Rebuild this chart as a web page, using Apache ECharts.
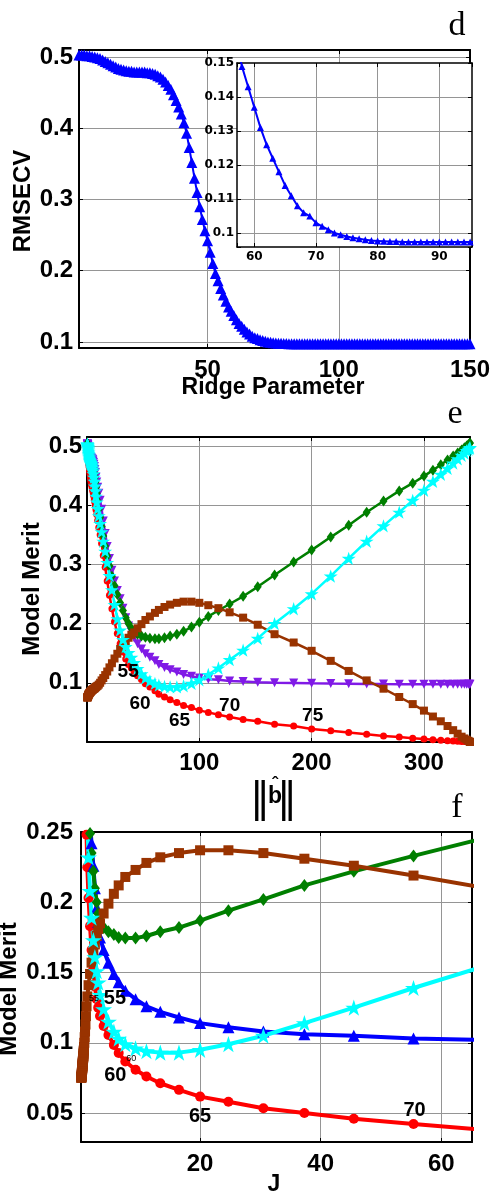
<!DOCTYPE html>
<html>
<head>
<meta charset="utf-8">
<script src="https://cdn.jsdelivr.net/npm/echarts@6/dist/echarts.min.js"></script>
<style>
html,body{margin:0;padding:0;background:#fff;}
#chart{width:495px;height:1195px;}
</style>
</head>
<body>
<div id="chart"></div>
<script>
// Ridge parameter index (1..150)
const ridge = Array.from({length: 150}, (_, i) => i + 1);

// RMSECV for each ridge parameter
const rmsecv = [
  0.503,0.503,0.503,0.502,0.502,0.501,0.500,0.499,0.498,0.496,
  0.494,0.492,0.490,0.488,0.486,0.484,0.483,0.482,0.481,0.480,
  0.480,0.479,0.479,0.479,0.479,0.479,0.478,0.478,0.477,0.476,
  0.474,0.472,0.469,0.465,0.460,0.455,0.447,0.439,0.430,0.420,
  0.408,0.393,0.373,0.352,0.330,0.310,0.290,0.272,0.256,0.242,
  0.226,0.210,0.196,0.186,0.175,0.166,0.157,0.149,0.143,0.137,
  0.131,0.126,0.122,0.118,0.114,0.111,0.108,0.106,0.105,0.103,
  0.102,0.101,0.100,0.0995,0.099,0.0986,0.0983,0.0980,0.0978,0.0977,
  0.0976,0.0975,0.0975,0.0974,0.0974,0.0974,0.0974,0.0974,0.0974,0.0974,
  0.0974,0.0974,0.0974,0.0974,0.0974,0.0974,0.0974,0.0974,0.0974,0.0974,
  0.0974,0.0974,0.0974,0.0974,0.0974,0.0974,0.0974,0.0974,0.0974,0.0974,
  0.0974,0.0974,0.0974,0.0974,0.0974,0.0974,0.0974,0.0974,0.0974,0.0974,
  0.0974,0.0974,0.0974,0.0974,0.0974,0.0974,0.0974,0.0974,0.0974,0.0974,
  0.0974,0.0974,0.0974,0.0974,0.0974,0.0974,0.0974,0.0974,0.0974,0.0974,
  0.0974,0.0974,0.0974,0.0974,0.0974,0.0974,0.0974,0.0974,0.0974,0.0974
];

// Norm of the regression vector for ridge parameters 1..93
const bNorm = [
  0.3,0.35,0.4,0.5,0.6,0.7,0.8,0.9,1.0,1.1,
  1.2,1.3,1.4,1.5,1.6,1.8,2.0,2.2,2.4,2.6,
  2.8,3.0,3.2,3.4,3.6,3.9,4.2,4.5,4.8,5.1,
  5.4,5.8,6.2,6.6,7.0,7.5,8.0,8.7,9.5,10.5,
  11.7,13.0,14.5,16.2,18.0,20.0,22.2,24.5,27.0,29.5,
  32.0,34.5,37.0,39.5,42.0,45.0,48.5,52.0,56.0,60.5,
  64,69,74,80,86,93,100,108,117,127,
  139,152,167,184,200,217,233,249,264,278,
  290,300,308,315,321,326,330,333.5,336,338,339.5,340.5,341
];

// J for ridge parameters 1..72
const jValues = [
  0.30,0.31,0.32,0.33,0.34,0.35,0.36,0.37,0.38,0.39,
  0.40,0.41,0.42,0.43,0.44,0.45,0.46,0.47,0.48,0.49,
  0.50,0.51,0.52,0.53,0.54,0.55,0.56,0.57,0.58,0.59,
  0.60,0.61,0.62,0.63,0.64,0.655,0.67,0.69,0.72,0.75,
  0.80,0.86,0.92,0.99,1.07,1.17,1.30,1.50,1.75,2.00,
  2.30,2.55,2.85,3.10,3.40,4.0,4.8,5.7,6.5,7.6,
  9.3,11.1,13.4,16.5,20.0,24.7,30.5,37.3,45.5,55.4,
  67.5,82.0
];

// RMSEC (red circles)
const rmsec = [
  0.502,0.501,0.500,0.499,0.497,0.495,0.493,0.491,0.488,0.485,
  0.482,0.479,0.476,0.473,0.470,0.467,0.464,0.461,0.458,0.455,
  0.452,0.449,0.446,0.443,0.440,0.437,0.434,0.431,0.428,0.425,
  0.422,0.418,0.414,0.410,0.405,0.399,0.392,0.384,0.374,0.362,
  0.350,0.335,0.315,0.295,0.272,0.248,0.225,0.203,0.183,0.166,
  0.152,0.140,0.131,0.125,0.119,0.112,0.1055,0.0985,0.0927,0.0867,
  0.0808,0.0760,0.0712,0.0665,0.0617,0.0581,0.0534,0.0500,0.0460,0.0422,
  0.038,0.035,0.030,0.027,0.022,0.019,0.016,0.013,0.010,0.0085,
  0.0065,0.005,0.004,0.003,0.0022,0.0016,0.0012,0.0009,0.0007,0.0005,0.0004,0.0003,0.0002
];

// Merit curve drawn with diamonds (green)
const meritDiamond = [
  0.504,0.504,0.503,0.503,0.502,0.501,0.500,0.499,0.498,0.496,
  0.494,0.492,0.490,0.488,0.486,0.484,0.483,0.482,0.481,0.480,
  0.479,0.479,0.478,0.478,0.477,0.477,0.476,0.475,0.474,0.472,
  0.469,0.465,0.460,0.454,0.447,0.439,0.430,0.420,0.407,0.393,
  0.379,0.364,0.348,0.331,0.314,0.297,0.280,0.264,0.249,0.235,
  0.222,0.210,0.200,0.192,0.186,0.182,0.179,0.177,0.175,0.1745,
  0.1745,0.176,0.179,0.182,0.187,0.194,0.202,0.212,0.222,0.233,
  0.246,0.262,0.282,0.304,0.324,0.346,0.366,0.388,0.407,0.424,
  0.437,0.449,0.459,0.468,0.476,0.483,0.488,0.493,0.497,0.500,0.502,0.504,0.505
];

// Merit curve drawn with squares (brown)
const meritSquare = [
  0.075,0.0752,0.0755,0.0758,0.076,0.0765,0.077,0.0775,0.078,0.0785,
  0.079,0.0795,0.080,0.0805,0.081,0.0815,0.082,0.0825,0.083,0.0835,
  0.084,0.0845,0.085,0.0855,0.086,0.0865,0.087,0.0875,0.088,0.0885,
  0.089,0.0895,0.090,0.0905,0.091,0.092,0.093,0.094,0.095,0.097,
  0.100,0.104,0.108,0.113,0.119,0.126,0.133,0.141,0.149,0.157,
  0.164,0.170,0.176,0.181,0.185,0.192,0.199,0.206,0.212,0.218,
  0.223,0.228,0.232,0.235,0.237,0.237,0.235,0.231,0.226,0.219,
  0.210,0.198,0.182,0.168,0.154,0.137,0.120,0.104,0.090,0.076,
  0.064,0.053,0.043,0.035,0.027,0.020,0.014,0.009,0.006,0.004,0.002,0.001,0.000
];

// Merit curve drawn with stars (cyan)
const meritStar = [
  0.503,0.503,0.502,0.502,0.501,0.500,0.499,0.498,0.497,0.495,
  0.493,0.491,0.489,0.487,0.485,0.483,0.481,0.479,0.477,0.475,
  0.474,0.473,0.472,0.471,0.470,0.469,0.468,0.466,0.464,0.461,
  0.458,0.453,0.447,0.440,0.432,0.424,0.415,0.405,0.394,0.382,
  0.369,0.355,0.339,0.322,0.303,0.281,0.257,0.232,0.208,0.189,
  0.173,0.161,0.151,0.143,0.134,0.124,0.115,0.108,0.103,0.099,
  0.096,0.094,0.093,0.093,0.095,0.099,0.105,0.114,0.125,0.139,
  0.155,0.175,0.200,0.225,0.250,0.280,0.310,0.339,0.365,0.388,
  0.408,0.425,0.440,0.452,0.462,0.471,0.478,0.484,0.488,0.492,0.494,0.496,0.497
];

// Ridge parameters annotated along the RMSEC curve
const eLabelRidge = [55, 60, 65, 70, 75];
const fLabelRidge = [55, 60, 65, 70];
const fSmallLabelRidge = [55, 60];

// Tick labels
const dTicksX = [50, 100, 150];
const dTicksY = [0.1, 0.2, 0.3, 0.4, 0.5];
const insetTicksX = [60, 70, 80, 90];
const insetTicksY = [0.1, 0.11, 0.12, 0.13, 0.14, 0.15];
const eTicksX = [100, 200, 300];
const eTicksY = [0.1, 0.2, 0.3, 0.4, 0.5];
const fTicksX = [20, 40, 60];
const fTicksY = [0.05, 0.1, 0.15, 0.2, 0.25];

// ---------------------------------------------------------------
const COL = {
  blue: '#0000ff', red: '#ff0000', purple: '#801ae6',
  green: '#007f00', brown: '#993300', cyan: '#00ffff'
};
const STAR = 'path://M0,-100 L22.45,-30.9 L95.1,-30.9 L36.3,11.8 L58.8,80.9 L0,38.2 L-58.8,80.9 L-36.3,11.8 L-95.1,-30.9 L-22.45,-30.9 Z';

function pick(ticks) {
  return function (v) {
    return ticks.some(t => Math.abs(t - v) < 1e-7) ? String(parseFloat(v.toFixed(4))) : '';
  };
}

const mainFont = {fontFamily: 'Liberation Sans', fontWeight: 'bold', fontSize: 24, color: '#000'};
const insetFont = {fontFamily: 'DejaVu Sans', fontWeight: 'bold', fontSize: 12, color: '#000'};

function makeAxes(dim, grid, min, max, step, ticks, font, margin, frameW, z) {
  const base = {
    type: 'value', gridIndex: grid, min: min, max: max,
    minInterval: step, maxInterval: step, z: z,
    axisLine: {show: true, onZero: false, lineStyle: {color: '#000', width: frameW}},
    axisTick: {show: true, inside: true, length: 4, lineStyle: {color: '#000', width: 1}}
  };
  const primary = Object.assign({}, base, {
    position: dim === 'x' ? 'bottom' : 'left',
    axisLabel: Object.assign({show: true, margin: margin, formatter: pick(ticks)}, font),
    splitLine: {show: true, showMinLine: false, showMaxLine: false, lineStyle: {color: '#959595', width: 1}}
  });
  const twin = Object.assign({}, base, {
    position: dim === 'x' ? 'top' : 'right',
    axisLabel: {show: false},
    splitLine: {show: false}
  });
  return [primary, twin];
}

const xAxes = [].concat(
  makeAxes('x', 0, 1, 150, 50, dTicksX, mainFont, 10, 2, 0),
  makeAxes('x', 1, 57.2, 95.3, 10, insetTicksX, insetFont, 4, 1.5, 3),
  makeAxes('x', 2, 0, 341, 100, eTicksX, mainFont, 9, 2, 0),
  makeAxes('x', 3, 0.25, 65.1, 20, fTicksX, mainFont, 10, 2, 0)
);
const yAxes = [].concat(
  makeAxes('y', 0, 0.0915, 0.51, 0.1, dTicksY, mainFont, 6, 2, 0),
  makeAxes('y', 1, 0.0959, 0.15, 0.01, insetTicksY, insetFont, 3, 1.5, 3),
  makeAxes('y', 2, 0, 0.515, 0.1, eTicksY, mainFont, 5, 2, 0),
  makeAxes('y', 3, 0.0294, 0.25, 0.05, fTicksY, mainFont, 8, 2, 0)
);

function lineSeries(axis, xs, ys, color, symbol, size, width, extra) {
  const n = Math.min(xs.length, ys.length);
  const data = [];
  for (let i = 0; i < n; i++) data.push([xs[i], ys[i]]);
  return Object.assign({
    type: 'line', xAxisIndex: axis, yAxisIndex: axis, data: data,
    symbol: symbol, symbolSize: size, showAllSymbol: true, symbolKeepAspect: true,
    itemStyle: {color: color, borderWidth: 0},
    lineStyle: {color: color, width: width},
    clip: true, silent: true, animation: false
  }, extra || {});
}

function noteSeries(axis, xs, ys, ridgeList, offsets, font) {
  return {
    type: 'scatter', xAxisIndex: axis, yAxisIndex: axis, symbolSize: 0, silent: true,
    z: 10, animation: false, itemStyle: {color: '#000'},
    data: ridgeList.map((k, i) => ({
      value: [xs[k - 1], ys[k - 1]],
      label: Object.assign({
        show: true, position: 'inside', formatter: String(k), offset: offsets[i],
        textBorderWidth: 0, textShadowBlur: 0, opacity: 1
      }, font)
    }))
  };
}

const series = [
  // d: RMSECV against ridge parameter
  lineSeries(0, ridge, rmsecv, COL.blue, 'triangle', 11, 2),
  // d inset
  lineSeries(2, ridge, rmsecv, COL.blue, 'triangle', 7, 2, {z: 4}),

  // e: merits against the norm of b
  lineSeries(4, bNorm, rmsec, COL.red, 'circle', 7, 2.5),
  lineSeries(4, bNorm, rmsecv, COL.purple, 'triangle', 9, 2.5, {symbolRotate: 180}),
  lineSeries(4, bNorm, meritDiamond, COL.green, 'diamond', [8, 11], 2.5),
  lineSeries(4, bNorm, meritSquare, COL.brown, 'rect', 8, 2.5),
  lineSeries(4, bNorm, meritStar, COL.cyan, STAR, 14, 2.5),
  noteSeries(4, bNorm, rmsec, eLabelRidge,
    [[-6, 0], [-15, 13], [-4, 15], [0, -11], [1, -13]],
    {fontFamily: 'Liberation Sans', fontWeight: 'bold', fontSize: 19, color: '#000'}),

  // f: merits against J
  lineSeries(6, jValues, rmsec, COL.red, 'circle', 10, 4),
  lineSeries(6, jValues, rmsecv, COL.blue, 'triangle', 12, 4),
  lineSeries(6, jValues, meritDiamond, COL.green, 'diamond', [10, 13], 4),
  lineSeries(6, jValues, meritSquare, COL.brown, 'rect', 10, 4),
  lineSeries(6, jValues, meritStar, COL.cyan, STAR, 17, 4),
  noteSeries(6, jValues, rmsec, fLabelRidge,
    [[15, -18], [-10, 14], [0, 20], [1, -14]],
    {fontFamily: 'Liberation Sans', fontWeight: 'bold', fontSize: 20, color: '#000'}),
  noteSeries(6, jValues, rmsec, fSmallLabelRidge,
    [[-6, -18], [6, -3]],
    {fontFamily: 'Liberation Sans', fontWeight: 'normal', fontSize: 9, color: '#000'})
];

function txt(x, y, text, font, rot) {
  return {
    type: 'text', x: x, y: y, rotation: rot || 0, silent: true, z: 20,
    style: {text: text, font: font, fill: '#000', align: 'center', verticalAlign: 'middle'}
  };
}

const titleFont = 'bold 23px "Liberation Sans"';
const sideFont = 'bold 24px "Liberation Sans"';
const letterFont = '34px "Liberation Serif"';

const option = {
  animation: false,
  backgroundColor: '#ffffff',
  grid: [
    {left: 79, top: 50, width: 391, height: 298, containLabel: false},
    {left: 237, top: 63, width: 235, height: 184, containLabel: false,
     show: true, backgroundColor: '#ffffff', borderWidth: 0, z: 1},
    {left: 87, top: 437, width: 383, height: 305, containLabel: false},
    {left: 81, top: 832, width: 391, height: 310, containLabel: false}
  ],
  xAxis: xAxes,
  yAxis: yAxes,
  series: series,
  graphic: [
    txt(457, 26, 'd', letterFont),
    txt(455, 414, 'e', letterFont),
    txt(457, 808, 'f', letterFont),
    txt(23, 201, 'RMSECV', sideFont, Math.PI / 2),
    txt(273, 388, 'Ridge Parameter', titleFont),
    txt(32, 589, 'Model Merit', sideFont, Math.PI / 2),
    txt(260, 801, '\u2016', '40px "DejaVu Sans"'),
    txt(275, 797, 'b', titleFont),
    txt(275, 785, '\u02C6', 'bold 18px "Liberation Sans"'),
    txt(287, 801, '\u2016', '40px "DejaVu Sans"'),
    txt(9, 989, 'Model Merit', sideFont, Math.PI / 2),
    txt(274, 1185, 'J', titleFont)
  ]
};

const chart = echarts.init(document.getElementById('chart'), null, {renderer: 'canvas'});
chart.setOption(option);
</script>
</body>
</html>
